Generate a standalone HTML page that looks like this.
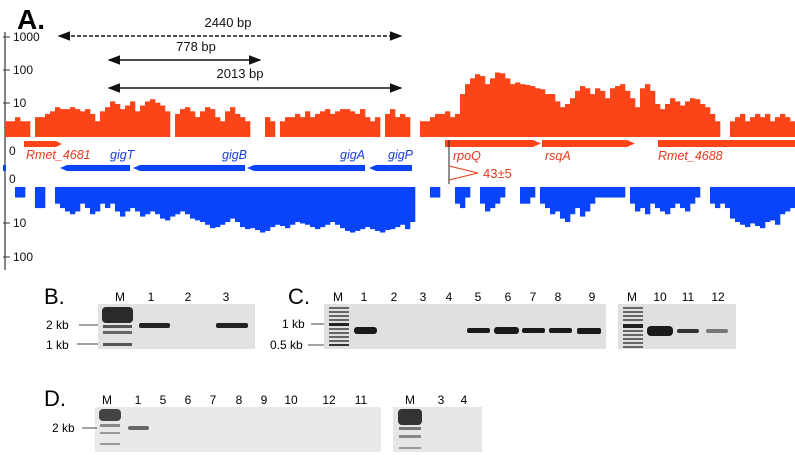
<!DOCTYPE html>
<html><head><meta charset="utf-8"><style>
html,body{margin:0;padding:0;background:#fff;}
svg{display:block;font-family:"Liberation Sans","DejaVu Sans",sans-serif;}
</style></head><body>
<svg id="fig" width="795" height="455" viewBox="0 0 795 455">
<g>
<text x="17" y="29" font-size="28" font-weight="bold">A.</text>
<line x1="5" y1="32" x2="5" y2="270" stroke="#333" stroke-width="1.2"/>
<g font-size="12" fill="#111">
<line x1="3" y1="37" x2="10" y2="37" stroke="#333"/><text x="13" y="41">1000</text>
<line x1="3" y1="70" x2="10" y2="70" stroke="#333"/><text x="13" y="74">100</text>
<line x1="3" y1="103" x2="10" y2="103" stroke="#333"/><text x="13" y="107">10</text>
<text x="9" y="155">0</text>
<text x="9" y="183">0</text>
<line x1="3" y1="223" x2="10" y2="223" stroke="#333"/><text x="13" y="227">10</text>
<line x1="3" y1="257" x2="10" y2="257" stroke="#333"/><text x="13" y="261">100</text>
</g>
<g id="redcov" fill="#fc4419"></g>
<g id="bluecov" fill="#0a44fa"></g>
<g font-size="13" fill="#111">
<defs><marker id="ah" markerWidth="8" markerHeight="8" refX="7" refY="4" orient="auto-start-reverse"><path d="M0,1 L8,4 L0,7 z" fill="#111"/></marker></defs>
<line x1="59" y1="36" x2="401" y2="36" stroke="#111" stroke-width="1.6" stroke-dasharray="4,2" marker-start="url(#ah)" marker-end="url(#ah)"/>
<text x="228" y="27" text-anchor="middle">2440 bp</text>
<line x1="109" y1="60" x2="260" y2="60" stroke="#111" stroke-width="1.6" marker-start="url(#ah)" marker-end="url(#ah)"/>
<text x="196" y="51" text-anchor="middle">778 bp</text>
<line x1="109" y1="88" x2="401" y2="88" stroke="#111" stroke-width="1.6" marker-start="url(#ah)" marker-end="url(#ah)"/>
<text x="240" y="78" text-anchor="middle">2013 bp</text>
</g>
<g fill="#fc4419">
<polygon points="24,141 56,141 62,144 56,147 24,147"/>
<polygon points="445,140 533,140 541,143.5 533,147 445,147"/>
<polygon points="542,140 627,140 635,143.5 627,147 542,147"/>
<rect x="658" y="140" width="137" height="7"/>
</g>
<g fill="#0a44fa">
<rect x="3" y="165" width="3" height="6"/>
<polygon points="60,168 67,165 130,165 130,171 67,171"/>
<polygon points="133,168 140,165 245,165 245,171 140,171"/>
<polygon points="247,168 254,165 365,165 365,171 254,171"/>
<polygon points="369,168 376,165 412,165 412,171 376,171"/>
</g>
<g font-size="12.5" font-style="italic" fill="#e8391c">
<text x="26" y="159">Rmet_4681</text>
<text x="453" y="160">rpoQ</text>
<text x="545" y="160">rsqA</text>
<text x="658" y="160">Rmet_4688</text>
</g>
<g font-size="12.5" font-style="italic" fill="#1a3cd6">
<text x="110" y="159">gigT</text>
<text x="222" y="159">gigB</text>
<text x="340" y="159">gigA</text>
<text x="388" y="159">gigP</text>
</g>
<g>
<line x1="449" y1="140" x2="449" y2="184" stroke="#222" stroke-width="1"/>
<polyline points="449,166 478,173 449,180" fill="none" stroke="#e8391c" stroke-width="1"/>
<text x="483" y="178" font-size="13" fill="#e8391c">43±5</text>
</g>
</g>

<g>
<text x="44" y="304" font-size="22" font-weight="500">B.</text>
<rect x="98" y="304" width="157" height="45" fill="#e2e2e2"/>
<g font-size="12" text-anchor="middle">
<text x="120" y="301">M</text><text x="151" y="301">1</text><text x="188" y="301">2</text><text x="226" y="301">3</text></g>
<g fill="#222">
<rect x="102" y="307" width="31" height="16" rx="4" fill="#2a2a2a"/>
<rect x="103" y="325" width="29" height="3" fill="#555"/><rect x="103" y="331" width="29" height="3" fill="#666"/><rect x="103" y="343" width="29" height="3" fill="#555"/>
<rect x="139" y="323" width="31" height="5" rx="2"/><rect x="216" y="323" width="32" height="5" rx="2"/></g>
<g font-size="12">
<text x="46" y="329">2 kb</text><line x1="79" y1="325" x2="98" y2="325" stroke="#444"/>
<text x="46" y="349">1 kb</text><line x1="77" y1="344" x2="98" y2="344" stroke="#444"/></g>
</g>

<g>
<text x="288" y="304" font-size="22">C.</text>
<rect x="324" y="304" width="282" height="45" fill="#e0e0e0"/>
<rect x="618" y="304" width="118" height="45" fill="#e0e0e0"/>
<g font-size="12" text-anchor="middle">
<text x="338" y="301">M</text><text x="364" y="301">1</text><text x="394" y="301">2</text><text x="423" y="301">3</text><text x="449" y="301">4</text><text x="478" y="301">5</text><text x="508" y="301">6</text><text x="533" y="301">7</text><text x="558" y="301">8</text><text x="592" y="301">9</text>
<text x="632" y="301">M</text><text x="660" y="301">10</text><text x="688" y="301">11</text><text x="718" y="301">12</text></g>
<g fill="#666">
<rect x="329" y="307" width="20" height="2"/><rect x="329" y="311" width="20" height="2"/><rect x="329" y="315" width="20" height="2"/><rect x="329" y="319" width="20" height="2"/><rect x="329" y="323" width="20" height="3" fill="#222"/><rect x="329" y="328" width="20" height="2"/><rect x="329" y="332" width="20" height="2"/><rect x="329" y="336" width="20" height="2"/><rect x="329" y="340" width="20" height="2"/><rect x="329" y="344" width="20" height="2" fill="#333"/>
<rect x="623" y="307" width="20" height="2"/><rect x="623" y="311" width="20" height="2"/><rect x="623" y="315" width="20" height="2"/><rect x="623" y="319" width="20" height="2"/><rect x="623" y="324" width="20" height="4" fill="#222"/><rect x="623" y="330" width="20" height="2"/><rect x="623" y="334" width="20" height="2"/><rect x="623" y="338" width="20" height="2"/><rect x="623" y="342" width="20" height="2"/><rect x="623" y="346" width="20" height="2"/>
</g>
<g fill="#1a1a1a">
<rect x="354" y="327" width="23" height="7" rx="3"/>
<rect x="467" y="328" width="23" height="5" rx="2"/><rect x="494" y="327" width="25" height="7" rx="3"/><rect x="522" y="328" width="23" height="5" rx="2"/><rect x="549" y="328" width="23" height="5" rx="2"/><rect x="577" y="328" width="24" height="6" rx="2"/>
<rect x="647" y="326" width="26" height="10" rx="4"/><rect x="677" y="329" width="22" height="4" rx="2" fill="#333"/><rect x="706" y="329" width="22" height="4" rx="2" fill="#777"/></g>
<g font-size="12">
<text x="282" y="328">1 kb</text><line x1="311" y1="324" x2="324" y2="324" stroke="#444"/>
<text x="270" y="349">0.5 kb</text><line x1="308" y1="345" x2="324" y2="345" stroke="#444"/></g>
</g>

<g>
<text x="44" y="406" font-size="22">D.</text>
<rect x="95" y="407" width="286" height="45" fill="#e9e9e9"/>
<rect x="393" y="407" width="89" height="45" fill="#e6e6e6"/>
<g font-size="12" text-anchor="middle">
<text x="107" y="404">M</text><text x="138" y="404">1</text><text x="163" y="404">5</text><text x="188" y="404">6</text><text x="213" y="404">7</text><text x="239" y="404">8</text><text x="264" y="404">9</text><text x="291" y="404">10</text><text x="329" y="404">12</text><text x="361" y="404">11</text>
<text x="410" y="404">M</text><text x="441" y="404">3</text><text x="464" y="404">4</text></g>
<g fill="#333">
<rect x="99" y="409" width="22" height="12" rx="4" fill="#444"/><rect x="100" y="424" width="20" height="3" fill="#888"/><rect x="100" y="432" width="20" height="2" fill="#999"/><rect x="100" y="443" width="20" height="2" fill="#999"/>
<rect x="128" y="426" width="21" height="4" rx="2" fill="#666"/>
<rect x="398" y="409" width="24" height="16" rx="4" fill="#333"/><rect x="399" y="427" width="22" height="3" fill="#777"/><rect x="399" y="435" width="22" height="3" fill="#888"/><rect x="399" y="447" width="22" height="2" fill="#999"/></g>
<g font-size="12">
<text x="52" y="432">2 kb</text><line x1="82" y1="428" x2="97" y2="428" stroke="#444"/></g>
</g>
</svg>
<script>
// forward (red) coverage counts, 5-px bins starting at x=5
const fwdCoverage = [3,3,4,3,3,0,4,4,5,6,8,7,7,8,7,6,7,5,3,6,8,12,10,7,9,12,6,9,12,14,11,9,6,0,5,7,8,6,4,6,8,7,4,3,6,8,5,4,3,0,0,0,4,3,0,3,4,4,5,4,6,4,5,6,7,5,6,7,7,6,5,7,4,3,4,0,5,7,4,5,4,0,0,3,3,4,5,5,6,4,5,20,40,60,80,70,40,60,90,85,60,40,45,40,38,35,30,28,20,20,12,8,10,15,25,35,30,20,30,25,15,30,35,40,25,15,8,30,40,25,10,7,10,15,12,9,12,15,14,10,8,5,3,0,0,3,4,5,3,4,5,4,5,3,4,5,4,3];
// reverse (blue) coverage counts, 5-px bins starting at x=5
const revCoverage = [0,0,2,2,0,0,4,4,0,0,3,4,5,6,5,3,4,6,5,3,4,3,5,7,5,4,5,7,6,5,6,8,9,7,6,5,6,8,9,10,12,15,14,12,10,8,10,14,16,15,17,20,18,14,12,13,15,12,10,11,12,14,16,14,12,10,12,15,18,20,18,16,14,16,18,20,17,16,14,12,16,10,0,0,0,2,2,0,0,0,3,4,2,0,0,3,5,4,3,2,0,0,0,3,3,2,0,3,4,6,5,8,10,6,4,7,5,3,2,2,2,2,2,2,0,3,5,4,6,3,4,5,6,4,3,4,5,3,2,0,0,3,4,3,4,8,10,12,14,11,13,15,10,9,12,6,5,4];
const binStart = 5, binW = 5;
const fwdBase = 137, fwdDecade = 33;
const revBase = 187, revDecade = 35;
const xOf = i => binStart + i * binW;
const fwdY = v => fwdBase - fwdDecade * Math.log10(Math.max(v, 1.6));
const revY = v => revBase + revDecade * Math.log10(Math.max(v, 1.6));
const NS = 'http://www.w3.org/2000/svg';
const rg = document.getElementById('redcov');
fwdCoverage.forEach((v, i) => {
  if (!v) return;
  const r = document.createElementNS(NS, 'rect');
  const y = fwdY(v);
  r.setAttribute('x', xOf(i)); r.setAttribute('width', binW + 0.3);
  r.setAttribute('y', y); r.setAttribute('height', fwdBase - y);
  
  
  rg.appendChild(r);
});
const bg = document.getElementById('bluecov');
revCoverage.forEach((v, i) => {
  if (!v) return;
  const r = document.createElementNS(NS, 'rect');
  const y = revY(v);
  r.setAttribute('x', xOf(i)); r.setAttribute('width', binW + 0.3);
  r.setAttribute('y', revBase); r.setAttribute('height', y - revBase);
  
  
  bg.appendChild(r);
});
</script>
</body></html>
